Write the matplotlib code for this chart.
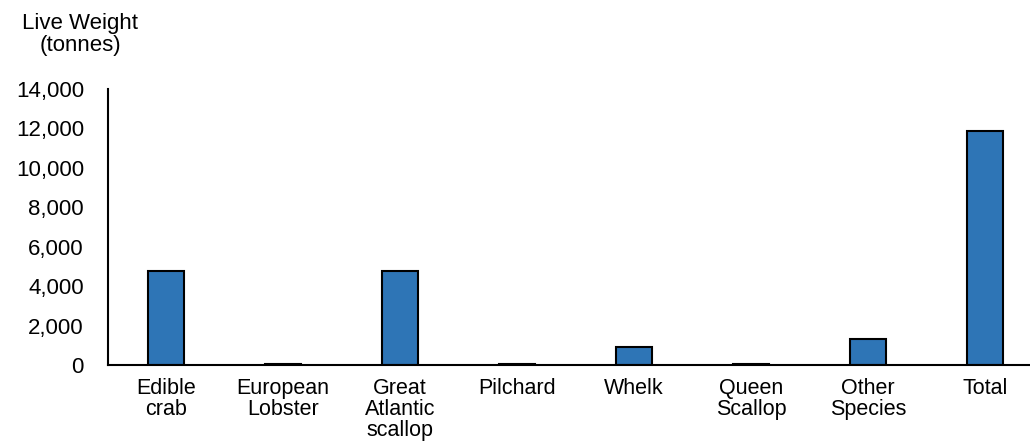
import matplotlib.pyplot as plt

categories = ["Edible\ncrab", "European\nLobster", "Great\nAtlantic\nscallop", "Pilchard",
              "Whelk", "Queen\nScallop", "Other\nSpecies", "Total"]
live_weight = [4780, 40, 4780, 35, 930, 30, 1320, 11870]
y_ticks = [0, 2000, 4000, 6000, 8000, 10000, 12000, 14000]

plt.rcParams['font.family'] = ['Liberation Sans', 'DejaVu Sans']

fig = plt.figure(figsize=(10.3, 4.43), dpi=100)
ax = fig.add_axes([0.1044, 0.176, 0.909, 0.623])

x = range(len(categories))
ax.bar(x, live_weight, width=0.31, color='#2E75B6', edgecolor='black', linewidth=1.5)

ax.set_xlim(-0.5, len(categories) - 0.5)
ax.set_ylim(0, 14000)
ax.set_yticks(y_ticks)
ax.set_yticklabels(["{:,}".format(v) for v in y_ticks])
ax.set_xticks(list(x))
ax.set_xticklabels(categories, linespacing=1.02)

ax.tick_params(axis='y', length=0, pad=17, labelsize=16)
ax.tick_params(axis='x', length=0, pad=9, labelsize=15.5)

for side in ['top', 'right']:
    ax.spines[side].set_visible(False)
ax.spines['left'].set_linewidth(1.5)
ax.spines['bottom'].set_linewidth(1.5)

fig.text(0.078, 0.97, "Live Weight\n(tonnes)", ha='center', va='top', fontsize=16, linespacing=1.05)

fig.savefig("out.png", dpi=100)
